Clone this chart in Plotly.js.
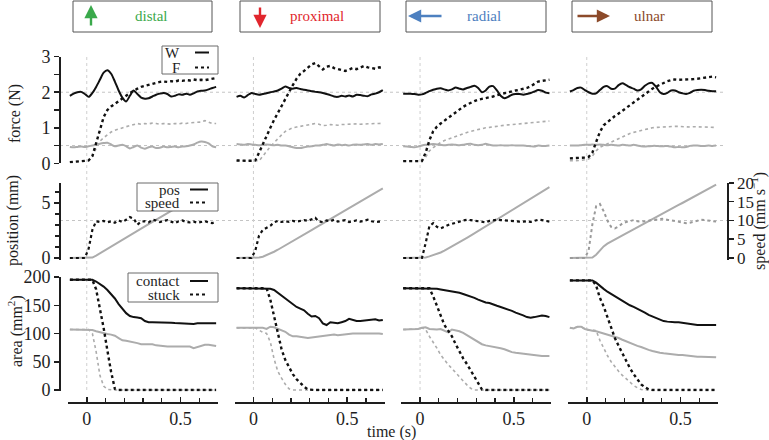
<!DOCTYPE html>
<html><head><meta charset="utf-8">
<script src="https://cdn.plot.ly/plotly-3.0.1.min.js"></script>
<style>html,body{margin:0;padding:0;background:#fff}#chart{width:769px;height:440px}</style>
</head><body><div id="chart"></div>
<script>
// ---------- DATA ----------
const t = [-0.09,-0.07,-0.05,-0.03,-0.01,0.01,0.03,0.05,0.07,0.09,0.11,0.13,0.15,0.17,0.19,0.21,0.23,0.25,0.27,0.29,0.31,0.33,0.35,0.37,0.39,0.41,0.43,0.45,0.47,0.49,0.51,0.53,0.55,0.57,0.59,0.61,0.63,0.65,0.67,0.69];
const panelTitles = ['distal','proximal','radial','ulnar'];
const forceTicks = [0,1,2,3];
const areaTicks = [0,50,100,150,200];
const speedTicks = [0,5,10,15,20];
const refForce = [2, 0.5];
const refSpeed = [10];

// distal
const distal_W1 = [1.90,1.96,2.00,2.01,1.95,1.87,1.98,2.15,2.35,2.55,2.62,2.52,2.30,2.05,1.85,1.74,1.90,2.05,1.95,1.85,1.82,1.83,1.88,1.93,1.96,1.98,1.95,1.88,1.90,1.94,1.93,1.96,1.93,1.97,2.02,2.04,2.05,2.08,2.12,2.15];
const distal_F1 = [0.03,0.04,0.05,0.05,0.06,0.08,0.20,0.55,0.95,1.30,1.50,1.60,1.67,1.74,1.82,1.90,1.98,2.05,2.10,2.15,2.18,2.21,2.24,2.27,2.29,2.30,2.29,2.31,2.30,2.33,2.32,2.34,2.33,2.36,2.34,2.35,2.34,2.36,2.37,2.40];
const distal_W2 = [0.46,0.45,0.46,0.47,0.46,0.48,0.50,0.52,0.55,0.57,0.58,0.53,0.48,0.50,0.52,0.48,0.42,0.46,0.50,0.44,0.41,0.45,0.47,0.43,0.44,0.47,0.45,0.46,0.47,0.45,0.47,0.48,0.50,0.53,0.58,0.61,0.60,0.56,0.48,0.45];
const distal_F2 = [0.04,0.04,0.05,0.05,0.06,0.08,0.20,0.42,0.62,0.72,0.80,0.88,0.93,0.97,1.00,1.03,1.06,1.09,1.12,1.10,1.12,1.11,1.13,1.12,1.10,1.12,1.11,1.10,1.12,1.11,1.13,1.12,1.14,1.15,1.14,1.16,1.20,1.16,1.12,1.12];
const distal_pos = [0,0,0,0,0,0,0.04,0.22,0.43,0.64,0.85,1.06,1.27,1.47,1.67,1.87,2.07,2.27,2.47,2.67,2.87,3.07,3.27,3.47,3.67,3.87,4.07,4.27,4.47,4.67,4.87,5.07,5.27,5.47,5.67,5.87,6.07,6.27,6.47,6.67];
const distal_speed = [0,0,0,0,0,2.5,7.5,9.8,9.6,9.9,9.5,9.8,9.4,10.0,9.6,10.2,10.9,10.5,8.9,9.7,9.8,9.5,10.2,10.0,9.6,9.9,10.1,9.7,9.3,9.8,10.0,9.6,9.5,9.7,9.4,9.6,9.8,9.5,9.3,9.8];
const distal_contact1 = [195,195,195,195,195,195,195,192,188,183,177,170,162,152,143,136,131,129,128.5,127,122,120,120,120,119.5,119,119,119,118.5,118,118,117.5,117,117,118,118,118.5,118,118,118];
const distal_stuck1 = [195,195,195,195,195,195,195,178,147,110,70,32,2,0,0,0,0,0,0,0,0,0,0,0,0,0,0,0,0,0,0,0,0,0,0,0,0,0,0,0];
const distal_contact2 = [107,107,107,107,107,107,106,104,102,100,99,98,96,92,88,87,86,85,83,81,81,80,81,79,78,78,77,77,77,78,77,78,77,74,76,79,80,80,79,78];
const distal_stuck2 = [107,107,107,107,107,107,100,68,26,7,1,0,0,0,0,0,0,0,0,0,0,0,0,0,0,0,0,0,0,0,0,0,0,0,0,0,0,0,0,0];

// proximal
const proximal_W1 = [1.87,1.90,1.85,1.92,1.98,1.95,1.93,1.95,1.97,2.00,2.02,2.05,2.10,2.16,2.12,2.10,2.12,2.09,2.07,2.05,2.03,2.01,2.00,1.98,1.95,1.92,1.88,1.87,1.90,1.88,1.91,1.88,1.93,1.92,1.90,1.89,1.94,1.96,2.00,2.06];
const proximal_F1 = [0.08,0.07,0.07,0.07,0.07,0.08,0.30,0.55,0.75,1.00,1.22,1.42,1.62,1.83,2.02,2.20,2.38,2.52,2.60,2.68,2.78,2.82,2.72,2.64,2.72,2.74,2.68,2.66,2.63,2.60,2.64,2.68,2.65,2.70,2.74,2.70,2.67,2.66,2.70,2.68];
const proximal_W2 = [0.54,0.53,0.52,0.54,0.53,0.52,0.51,0.52,0.53,0.52,0.51,0.52,0.50,0.50,0.48,0.45,0.43,0.43,0.45,0.47,0.48,0.50,0.50,0.52,0.54,0.52,0.50,0.53,0.51,0.52,0.50,0.52,0.53,0.52,0.53,0.54,0.52,0.54,0.53,0.54];
const proximal_F2 = [0.07,0.07,0.07,0.07,0.07,0.07,0.07,0.20,0.35,0.47,0.58,0.70,0.80,0.90,0.96,1.00,1.02,1.04,1.06,1.08,1.10,1.12,1.10,1.06,1.07,1.09,1.08,1.07,1.09,1.10,1.09,1.10,1.11,1.10,1.11,1.12,1.11,1.12,1.12,1.13];
const proximal_pos = [0,0,0,0,0,0,0.04,0.12,0.25,0.40,0.57,0.75,0.94,1.13,1.33,1.53,1.73,1.93,2.13,2.33,2.53,2.73,2.93,3.13,3.33,3.53,3.73,3.93,4.13,4.33,4.53,4.73,4.93,5.13,5.33,5.53,5.73,5.93,6.13,6.33];
const proximal_speed = [0,0,0,0,0,2.0,6.0,7.5,8.0,8.6,9.5,9.9,9.6,9.8,9.6,9.9,9.7,9.8,10.1,9.9,10.4,10.7,9.7,9.6,10.0,9.8,10.2,9.7,9.9,10.1,9.6,9.8,10.0,9.7,9.9,10.2,9.8,9.6,9.7,9.7];
const proximal_contact1 = [180,180,180,180,180,180,180,180,180,179,177,172,168,163,157,152,147,144,141,135,130,131,127,118,115,120,119,118,120,122,126,124,122,122,123,123,124,125,123,124];
const proximal_stuck1 = [180,180,180,180,180,180,180,180,180,160,130,96,72,53,39,28,19,12,6,1,0,0,0,0,0,0,0,0,0,0,0,0,0,0,0,0,0,0,0,0];
const proximal_contact2 = [110,110,110,110,110,110,110,110,108,112,111,108,106,103,98,95,95,94,93,92,93,94,95,96,96,97,98,97,98,99,99,100,100,100,101,101,101,101,100,99];
const proximal_stuck2 = [110,110,110,110,110,110,106,102,100,85,55,33,21,10,2,0,0,0,0,0,0,0,0,0,0,0,0,0,0,0,0,0,0,0,0,0,0,0,0,0];

// radial
const radial_W1 = [1.96,1.96,1.96,1.95,1.93,1.94,1.98,2.03,2.07,2.10,2.11,2.08,2.05,2.08,2.13,2.10,2.08,2.12,2.15,2.18,2.12,2.00,2.05,2.16,2.17,2.05,1.90,1.83,1.87,1.93,1.95,1.95,1.93,1.95,1.98,2.02,2.06,2.04,1.99,1.97];
const radial_F1 = [0.06,0.06,0.06,0.06,0.06,0.06,0.30,0.65,0.90,1.03,1.12,1.20,1.28,1.36,1.43,1.52,1.59,1.65,1.71,1.75,1.79,1.81,1.84,1.86,1.88,1.92,1.95,1.98,2.01,2.03,2.05,2.07,2.09,2.12,2.17,2.24,2.30,2.32,2.34,2.35];
const radial_W2 = [0.48,0.47,0.46,0.45,0.47,0.50,0.52,0.53,0.54,0.53,0.52,0.51,0.52,0.53,0.52,0.51,0.52,0.54,0.55,0.52,0.51,0.52,0.55,0.52,0.50,0.50,0.51,0.50,0.50,0.51,0.50,0.50,0.50,0.49,0.48,0.47,0.50,0.49,0.49,0.50];
const radial_F2 = [0.07,0.07,0.07,0.07,0.07,0.07,0.18,0.35,0.44,0.52,0.59,0.64,0.68,0.72,0.77,0.81,0.84,0.87,0.90,0.93,0.96,0.98,1.00,1.01,1.03,1.04,1.05,1.07,1.08,1.09,1.09,1.10,1.11,1.12,1.12,1.13,1.14,1.16,1.18,1.19];
const radial_pos = [0,0,0,0,0,0,0.05,0.15,0.25,0.36,0.50,0.68,0.86,1.05,1.24,1.43,1.63,1.83,2.03,2.24,2.45,2.66,2.87,3.08,3.29,3.50,3.71,3.92,4.13,4.34,4.55,4.76,4.97,5.18,5.39,5.60,5.81,6.02,6.23,6.44];
const radial_speed = [0,0,0,0,0,0,4.0,8.5,9.3,8.3,7.9,8.4,8.8,9.1,9.5,9.7,10.0,10.2,10.1,9.9,9.8,9.6,9.5,9.9,10.1,10.2,10.1,10.0,9.9,9.8,9.8,9.7,9.7,9.8,9.6,9.9,10.2,10.1,9.8,9.7];
const radial_contact1 = [180,180,180,180,180,180,180,180,179.5,179,178,177,176,174.5,173,172,170,168,166,163,160,157,155,154,151,149,147,145,142,140,137,135,132,129,128,129,131,132,131,129];
const radial_stuck1 = [180,180,180,180,180,180,180,180,166,148,130,115,105,95,81,68,56,46,35,24,12,1,0,0,0,0,0,0,0,0,0,0,0,0,0,0,0,0,0,0];
const radial_contact2 = [107,107,107,107,108,110,111,108,107,107,108,105,102,107,106,104,101,97,93,89,85,81,79,78,76,75,74,72,69,67,66,65,64,63,63,62,61,60,60,60];
const radial_stuck2 = [107,107,107,107,108,110,107,95,85,74,62,53,45,38,30,23,16,9,3,0,0,0,0,0,0,0,0,0,0,0,0,0,0,0,0,0,0,0,0,0];

// ulnar
const ulnar_W1 = [2.02,2.06,2.12,2.13,2.06,2.00,1.96,1.97,2.06,2.15,2.17,2.10,2.10,2.20,2.25,2.20,2.14,2.10,2.05,2.08,2.18,2.25,2.26,2.15,2.00,1.95,1.98,2.05,2.05,2.00,1.97,1.95,1.98,2.04,2.06,2.07,2.06,2.04,2.03,2.03];
const ulnar_F1 = [0.14,0.14,0.15,0.15,0.16,0.18,0.30,0.60,0.88,1.07,1.16,1.25,1.33,1.40,1.48,1.56,1.64,1.71,1.78,1.86,1.94,2.02,2.10,2.16,2.21,2.27,2.31,2.34,2.36,2.35,2.35,2.36,2.37,2.37,2.38,2.39,2.41,2.43,2.44,2.42];
const ulnar_W2 = [0.50,0.50,0.50,0.51,0.52,0.52,0.53,0.52,0.53,0.52,0.51,0.52,0.51,0.50,0.52,0.51,0.50,0.52,0.50,0.48,0.47,0.48,0.49,0.49,0.48,0.48,0.49,0.47,0.45,0.46,0.45,0.46,0.49,0.50,0.50,0.49,0.49,0.50,0.49,0.50];
const ulnar_F2 = [0.07,0.07,0.08,0.08,0.10,0.12,0.20,0.35,0.45,0.50,0.55,0.60,0.65,0.70,0.75,0.80,0.84,0.87,0.90,0.93,0.96,0.98,1.00,1.01,1.02,1.03,1.04,1.04,1.04,1.04,1.03,1.02,1.02,1.03,1.03,1.02,1.02,1.03,1.02,1.01];
const ulnar_pos = [0,0,0,0,0,0,0.05,0.30,0.70,1.05,1.30,1.50,1.68,1.87,2.05,2.24,2.42,2.61,2.79,2.97,3.16,3.34,3.53,3.71,3.90,4.08,4.26,4.45,4.63,4.82,5.00,5.18,5.37,5.55,5.74,5.92,6.10,6.29,6.47,6.66];
const ulnar_speed = [0,0,0,0,0,2.0,9.0,13.8,14.4,12.5,10.0,8.3,7.9,8.4,9.2,9.6,9.9,10.1,9.8,9.7,9.8,9.9,10.0,10.2,10.4,10.5,10.2,10.0,9.7,9.6,9.4,9.3,9.4,9.7,10.0,10.2,10.1,9.9,9.8,9.7];
const ulnar_contact1 = [194,194,194,194,194,194,194,190,184,179,174,170,166,161,157,153,150,147,144,140,137,133,130,127,124,122,121,120,120,120,119,117,116,115,115,115,115,114,115,115];
const ulnar_stuck1 = [194,194,194,194,194,194,194,185,163,148,128,110,92,78,64,50,39,28,18,10,5,1,0,0,0,0,0,0,0,0,0,0,0,0,0,0,0,0,0,0];
const ulnar_contact2 = [110,109,112,112,108,106,105,104,102,100,99,96,94,92,89,86,83,80,78,76,73,71,69,67,66,65,64,63,63,62,62,61,60,59,59,59,59,58,58,58];
const ulnar_stuck2 = [110,109,112,112,108,106,106,105,88,73,61,50,41,33,26,20,14,8,4,1,0,0,0,0,0,0,0,0,0,0,0,0,0,0,0,0,0,0,0,0];

// ---------- BUILD ----------
const cols = [
  {W1:distal_W1,F1:distal_F1,W2:distal_W2,F2:distal_F2,pos:distal_pos,speed:distal_speed,c1:distal_contact1,s1:distal_stuck1,c2:distal_contact2,s2:distal_stuck2},
  {W1:proximal_W1,F1:proximal_F1,W2:proximal_W2,F2:proximal_F2,pos:proximal_pos,speed:proximal_speed,c1:proximal_contact1,s1:proximal_stuck1,c2:proximal_contact2,s2:proximal_stuck2},
  {W1:radial_W1,F1:radial_F1,W2:radial_W2,F2:radial_F2,pos:radial_pos,speed:radial_speed,c1:radial_contact1,s1:radial_stuck1,c2:radial_contact2,s2:radial_stuck2},
  {W1:ulnar_W1,F1:ulnar_F1,W2:ulnar_W2,F2:ulnar_F2,pos:ulnar_pos,speed:ulnar_speed,c1:ulnar_contact1,s1:ulnar_stuck1,c2:ulnar_contact2,s2:ulnar_stuck2}
];

const W = 769, H = 440;
const px = x => x / W, py = y => 1 - y / H;
const FONT = 'Liberation Serif, Times New Roman, serif';
const INK = '#1e1e1e';
const BLACK = '#111111';
const GRAY = '#acacac';
const colStart = [68, 234.7, 401.3, 568];
const colW = 150;
const rowDom = [[py(163.3), py(56.7)], [py(259.65), py(182.98)], [py(391.41), py(277)]];
const rowRange = [[0, 3], [-0.15, 6.82], [-2.5, 200]];
const speedRange = [-0.44, 20];

function ax(k){ return k === 1 ? '' : String(k); }
function tr(k, ky, y, color, width, dash, spline){
  return {type:'scatter', mode:'lines', x:t, y:y, xaxis:'x'+ax(k), yaxis:'y'+ax(ky),
    line:{color:color, width:width, dash:dash||'solid', shape: spline ? 'spline' : 'linear', smoothing: 0.7},
    hoverinfo:'skip', showlegend:false};
}

const data = [];
cols.forEach((d, c) => {
  const kF = c + 1, kP = c + 5, kA = c + 9, kS = c + 13;
  data.push(tr(kF, kF, d.W2, GRAY, 2, 'solid', true));
  data.push(tr(kF, kF, d.F2, GRAY, 1.6, 'dot'));
  data.push(tr(kF, kF, d.F1, BLACK, 2.4, 'dot'));
  data.push(tr(kF, kF, d.W1, BLACK, 2, 'solid', true));
  data.push(tr(kP, kP, d.pos, GRAY, 2, 'solid'));
  data.push(tr(kP, kS, d.speed, c === 3 ? '#9a9a9a' : BLACK, c === 3 ? 2 : 2.2, 'dot'));
  data.push(tr(kA, kA, d.c2, GRAY, 2, 'solid'));
  data.push(tr(kA, kA, d.s2, GRAY, 1.6, 'dot'));
  data.push(tr(kA, kA, d.c1, BLACK, 2, 'solid'));
  data.push(tr(kA, kA, d.s1, BLACK, 2.4, 'dot'));
});

const tickFont = {family: FONT, size: 18, color: INK};
const layout = {
  width: W, height: H, margin: {l:0, r:0, t:0, b:0},
  paper_bgcolor: '#ffffff', plot_bgcolor: 'rgba(0,0,0,0)',
  font: {family: FONT, color: INK},
  showlegend: false, shapes: [], annotations: []
};

for (let r = 0; r < 3; r++) {
  for (let c = 0; c < 4; c++) {
    const k = r * 4 + c + 1;
    const xa = {domain: [px(colStart[c]), px(colStart[c] + colW)], range: [-0.1, 0.7],
      anchor: 'y' + ax(k), showgrid: false, zeroline: false, fixedrange: true};
    if (r === 2) {
      Object.assign(xa, {visible: true, showline: true, linecolor: INK, linewidth: 1.5,
        anchor: 'free', position: py(402), side: 'bottom',
        ticks: 'inside', ticklen: 5, tickwidth: 1.5, tickcolor: INK, tick0: 0, dtick: 0.5,
        minor: {tick0: 0, dtick: 0.1, ticks: 'inside', ticklen: 4, tickwidth: 1.2, tickcolor: INK, showgrid: false},
        tickfont: tickFont, showticklabels: true});
    } else {
      xa.visible = false;
    }
    layout['xaxis' + ax(k)] = xa;

    const ya = {domain: rowDom[r], range: rowRange[r], anchor: 'x' + ax(k),
      showgrid: false, zeroline: false, fixedrange: true};
    if (c === 0) {
      Object.assign(ya, {visible: true, showline: true, linecolor: INK, linewidth: 1.5,
        anchor: 'free', position: px(59), side: 'left',
        ticks: 'outside', ticklen: 5, tickwidth: 1.5, tickcolor: INK, tickfont: tickFont});
      if (r === 0) Object.assign(ya, {tickmode: 'array', tickvals: forceTicks,
        minor: {tick0: 0, dtick: 0.5, ticks: 'outside', ticklen: 5, tickwidth: 1.2, tickcolor: INK, showgrid: false}});
      if (r === 1) Object.assign(ya, {tick0: 0, dtick: 5,
        minor: {tick0: 0, dtick: 1, ticks: 'outside', ticklen: 4, tickwidth: 1.2, tickcolor: INK, showgrid: false}});
      if (r === 2) Object.assign(ya, {tickmode: 'array', tickvals: areaTicks});
    } else {
      ya.visible = false;
    }
    layout['yaxis' + ax(k)] = ya;
  }
}
for (let c = 0; c < 4; c++) {
  const k = c + 13;
  const ya = {overlaying: 'y' + (c + 5), range: speedRange, anchor: 'x' + (c + 5),
    showgrid: false, zeroline: false, fixedrange: true, visible: false};
  if (c === 3) Object.assign(ya, {visible: true, side: 'right', anchor: 'free', position: px(727),
    showline: true, linecolor: INK, linewidth: 1.5, ticks: 'outside', ticklen: 5, tickwidth: 1.5,
    tickcolor: INK, tickmode: 'array', tickvals: speedTicks, tickfont: {family: FONT, size: 17, color: INK}});
  layout['yaxis' + k] = ya;
}

const S = layout.shapes, A = layout.annotations;
// reference dotted lines
refForce.forEach(v => S.push({type:'line', xref:'paper', yref:'y', x0:px(60), x1:px(726), y0:v, y1:v,
  line:{color:'#c4c4c4', width:1, dash:'dot'}, layer:'below'}));
refSpeed.forEach(v => S.push({type:'line', xref:'paper', yref:'y13', x0:px(60), x1:px(727), y0:v, y1:v,
  line:{color:'#c4c4c4', width:1, dash:'dot'}, layer:'below'}));
for (let c = 0; c < 4; c++) {
  S.push({type:'line', xref:'x' + ax(c + 1), yref:'paper', x0:0, x1:0, y0:py(390), y1:py(55),
    line:{color:'#cfcfcf', width:1, dash:'dot'}, layer:'below'});
}
function box(x0, y0, x1, y1, col){
  S.push({type:'rect', xref:'paper', yref:'paper', x0:px(x0), x1:px(x1), y0:py(y1), y1:py(y0),
    line:{color: col || '#6a6a6a', width:1}, fillcolor:'#ffffff', layer:'above'});
}
function sample(x0, x1, y, dash){
  S.push({type:'line', xref:'paper', yref:'paper', x0:px(x0), x1:px(x1), y0:py(y), y1:py(y),
    line:{color:BLACK, width:2, dash:dash}, layer:'above'});
}
function label(text, x, y, opts){
  A.push(Object.assign({text:text, xref:'paper', yref:'paper', x:px(x), y:py(y), showarrow:false,
    xanchor:'center', yanchor:'middle', font:{family:FONT, size:15, color:INK}}, opts || {}));
}

// header boxes
const hdr = [
  {x0:73, x1:212, color:'#3aa94b', tx:151, arrow:{x:91, y:5, ax:0, ay:22}},
  {x0:240, x1:380, color:'#e1262d', tx:317, arrow:{x:260, y:28, ax:0, ay:-22}},
  {x0:406, x1:546, color:'#4d80c0', tx:484, arrow:{x:408, y:16, ax:35, ay:0}},
  {x0:572, x1:712, color:'#8c4a2a', tx:649, arrow:{x:610, y:16, ax:-34, ay:0}}
];
hdr.forEach((h, i) => {
  box(h.x0, 1, h.x1, 32, '#555555');
  label(panelTitles[i], h.tx, 16.5, {font:{family:FONT, size:15, color:h.color}});
  A.push({text:'', xref:'paper', yref:'paper', x:px(h.arrow.x), y:py(h.arrow.y), ax:h.arrow.ax, ay:h.arrow.ay,
    showarrow:true, arrowhead:2, arrowsize:1.1, arrowwidth:2.4, arrowcolor:h.color, standoff:0, startstandoff:0});
});

// legends
box(162, 46, 218, 74);
label('W', 182, 53, {xanchor:'right'}); sample(195, 209, 52.5, 'solid');
label('F', 182, 67.5, {xanchor:'right'}); sample(195, 209, 67.5, 'dot');
box(137, 183, 218, 211);
label('pos', 182, 189.5, {xanchor:'right'}); sample(190, 208, 189.5, 'solid');
label('speed', 182, 202.5, {xanchor:'right'}); sample(190, 208, 202.5, 'dot');
box(128, 273, 218, 302);
label('contact', 182, 281, {xanchor:'right'}); sample(190, 208, 281, 'solid');
label('stuck', 182, 294.5, {xanchor:'right'}); sample(190, 208, 294.5, 'dot');

// axis titles
label('force (N)', 15, 114, {textangle:-90, font:{family:FONT, size:16, color:INK}});
label('position (mm)', 13, 221, {textangle:-90, font:{family:FONT, size:16, color:INK}});
label('area (mm<sup>2</sup>)', 15, 331, {textangle:-90, font:{family:FONT, size:16, color:INK}});
label('speed (mm s<sup>−1</sup>)', 758, 221, {textangle:-90, font:{family:FONT, size:16, color:INK}});
label('time (s)', 391, 432, {font:{family:FONT, size:16, color:INK}});

Plotly.newPlot('chart', data, layout, {staticPlot: true, displayModeBar: false});
</script>
</body></html>
